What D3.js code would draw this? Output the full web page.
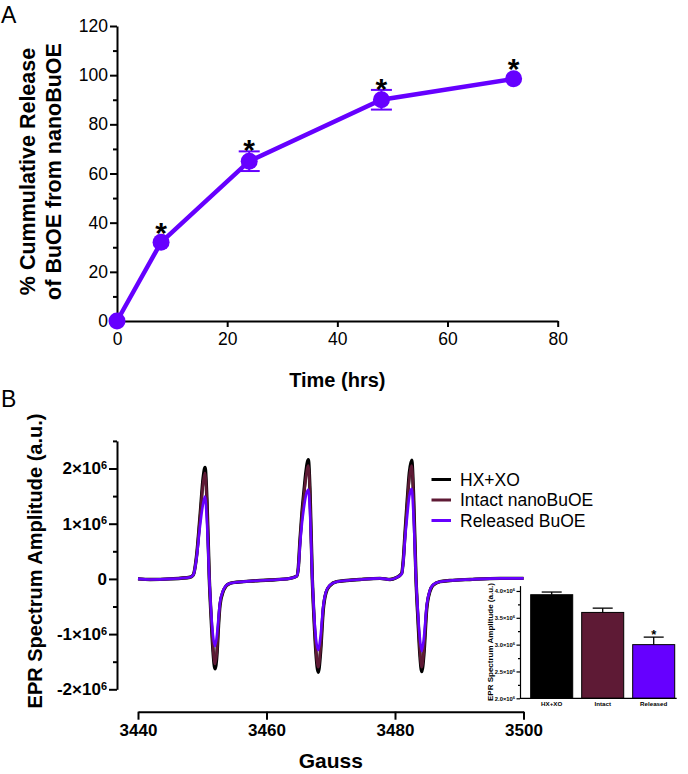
<!DOCTYPE html>
<html>
<head>
<meta charset="utf-8">
<script src="https://cdn.jsdelivr.net/npm/d3@7"></script>
<style>
  html, body { margin: 0; padding: 0; background: #fff; }
  svg { display: block; font-family: "Liberation Sans", Arial, Helvetica, sans-serif; }
</style>
</head>
<body>
<svg id="chart" width="688" height="774"></svg>
<script>
// ---------------- DATA ----------------
// Panel A: cumulative release
const timeHrs    = [0, 8, 24, 48, 72];
const releasePct = [0, 32, 65, 90, 98.5];
const releaseErr = [0, 0, 4, 4, 0];
const releaseSig = [false, true, true, true, true];
const timeTicks  = [0, 20, 40, 60, 80];
const pctTicks   = [0, 20, 40, 60, 80, 100, 120];

// Panel B: EPR spectra (amplitude in units of 10^6 a.u.)
const gauss = [3440, 3441.9, 3445.0, 3448.1, 3448.6, 3449.1, 3449.65, 3450.16, 3450.43, 3450.74,
  3451.10, 3451.36, 3451.67, 3451.98, 3452.30, 3452.53, 3452.76, 3453.28, 3453.70, 3454.32,
  3455.36, 3457.43, 3460.54, 3463.66, 3464.70, 3464.95, 3465.21, 3465.52, 3465.84, 3466.15,
  3466.51, 3466.77, 3467.13, 3467.39, 3467.70, 3468.06, 3468.40, 3468.84, 3469.26, 3469.88,
  3470.93, 3472.48, 3474.55, 3477.67, 3479.22, 3480.16, 3481.04, 3481.29, 3481.56, 3481.91,
  3482.23, 3482.60, 3482.88, 3483.27, 3483.58, 3483.89, 3484.16, 3484.51, 3484.93, 3485.45,
  3485.96, 3487.00, 3488.56, 3491.67, 3496.34, 3500];
const hxxo = [0.00, -0.01, 0.00, 0.03, 0.07, 0.40, 1.13, 1.85, 2.02, 1.40,
  0.00, -0.65, -1.30, -1.63, -1.35, -0.85, -0.48, -0.22, -0.13, -0.08,
  -0.06, -0.04, -0.02, 0.01, 0.05, 0.20, 0.70, 1.20, 1.60, 1.95,
  2.16, 1.60, 0.00, -0.70, -1.35, -1.69, -1.35, -0.55, -0.25, -0.12,
  -0.05, -0.03, -0.01, 0.01, -0.01, 0.02, 0.10, 0.34, 0.83, 1.43,
  1.92, 2.15, 1.55, 0.00, -0.75, -1.40, -1.68, -1.35, -0.55, -0.22,
  -0.11, -0.05, -0.03, -0.01, 0.01, 0.01];
const intact = [0.00, -0.01, 0.00, 0.03, 0.07, 0.39, 1.10, 1.76, 1.92, 1.33,
  0.00, -0.62, -1.24, -1.54, -1.28, -0.82, -0.46, -0.21, -0.13, -0.08,
  -0.06, -0.04, -0.02, 0.01, 0.05, 0.19, 0.68, 1.15, 1.52, 1.85,
  2.05, 1.52, 0.00, -0.67, -1.28, -1.60, -1.28, -0.53, -0.24, -0.12,
  -0.05, -0.03, -0.01, 0.01, -0.01, 0.02, 0.10, 0.33, 0.80, 1.37,
  1.83, 2.05, 1.48, 0.00, -0.71, -1.33, -1.60, -1.28, -0.53, -0.21,
  -0.11, -0.05, -0.03, -0.01, 0.01, 0.01];
const released = [0.00, -0.01, 0.00, 0.03, 0.07, 0.36, 0.95, 1.38, 1.49, 1.00,
  0.00, -0.55, -1.02, -1.22, -1.00, -0.70, -0.42, -0.20, -0.12, -0.08,
  -0.06, -0.04, -0.02, 0.01, 0.05, 0.18, 0.60, 1.00, 1.30, 1.52,
  1.62, 1.20, 0.00, -0.60, -1.08, -1.29, -1.05, -0.48, -0.23, -0.11,
  -0.05, -0.03, -0.01, 0.01, -0.01, 0.02, 0.09, 0.30, 0.72, 1.15,
  1.50, 1.63, 1.15, 0.00, -0.62, -1.10, -1.31, -1.05, -0.48, -0.20,
  -0.10, -0.05, -0.03, -0.01, 0.01, 0.01];
const seriesNames = ["HX+XO", "Intact nanoBuOE", "Released BuOE"];
const gaussTicks = [3440, 3460, 3480, 3500];
const ampTicks = [-2, -1, 0, 1, 2];
const ampMinor = [-1.5, -0.5, 0.5, 1.5, 2.5];

// Inset bar chart (10^6 a.u.)
const insetCats  = ["HX+XO", "Intact", "Released"];
const insetMeans = [3.93, 3.60, 3.00];
const insetErr   = [0.05, 0.08, 0.14];
const insetSig   = [false, false, true];
const insetTicks = [2.0, 2.5, 3.0, 3.5, 4.0];
const insetMinor = [2.25, 2.75, 3.25, 3.75];

// ---------------- STYLE ----------------
const PURPLE = "#6600ff";
const MAROON = "#5e1a35";
const svg = d3.select("#chart");

function styleAxis(g, width, fs, bold) {
  g.select(".domain").attr("stroke", "#000").attr("stroke-width", width);
  g.selectAll(".tick line").attr("stroke", "#000").attr("stroke-width", width);
  g.selectAll(".tick text").attr("fill", "#000").attr("font-size", fs)
    .attr("font-family", "Liberation Sans, Arial, sans-serif")
    .attr("font-weight", bold ? "bold" : "normal");
}

// ---------------- PANEL A ----------------
svg.append("text").attr("x", 1).attr("y", 23).attr("font-size", 23).text("A");

const xA = d3.scaleLinear().domain([0, 80]).range([117, 557.7]);
const yA = d3.scaleLinear().domain([0, 120]).range([321, 26]);

const gyA = svg.append("g").attr("transform", `translate(${xA(0)},0)`)
  .call(d3.axisLeft(yA).tickValues(pctTicks).tickSize(7).tickPadding(2).tickSizeOuter(0));
styleAxis(gyA, 2, 17.5, false);
const gyAm = svg.append("g").attr("transform", `translate(${xA(0)},0)`)
  .call(d3.axisLeft(yA).tickValues(d3.range(10, 120, 20)).tickSize(4).tickFormat(""));
gyAm.select(".domain").remove();
gyAm.selectAll(".tick line").attr("stroke", "#000").attr("stroke-width", 2);

const gxA = svg.append("g").attr("transform", `translate(0,${yA(0)})`)
  .call(d3.axisBottom(xA).tickValues(timeTicks).tickSize(6).tickPadding(6).tickSizeOuter(0));
styleAxis(gxA, 2, 17.5, false);

svg.append("text").attr("x", (xA(0) + xA(80)) / 2).attr("y", 387)
  .attr("text-anchor", "middle").attr("font-weight", "bold").attr("font-size", 20)
  .text("Time (hrs)");

const yTitleA = svg.append("text").attr("transform", "translate(0,171.5) rotate(-90)")
  .attr("text-anchor", "middle").attr("font-weight", "bold").attr("font-size", 21.5);
yTitleA.append("tspan").attr("x", 0).attr("y", 34.5).text("% Cummulative Release");
yTitleA.append("tspan").attr("x", 0).attr("y", 60.5).text("of BuOE from nanoBuOE");

const ptsA = timeHrs.map((t, i) => ({ t, v: releasePct[i], e: releaseErr[i], s: releaseSig[i] }));
svg.append("path").datum(ptsA)
  .attr("fill", "none").attr("stroke", PURPLE).attr("stroke-width", 4.5)
  .attr("d", d3.line().x(d => xA(d.t)).y(d => yA(d.v)));

const errA = svg.append("g").attr("stroke", PURPLE).attr("stroke-width", 2);
ptsA.filter(d => d.e > 0).forEach(d => {
  errA.append("line").attr("x1", xA(d.t)).attr("x2", xA(d.t)).attr("y1", yA(d.v - d.e)).attr("y2", yA(d.v + d.e));
  [d.v - d.e, d.v + d.e].forEach(v => {
    errA.append("line").attr("x1", xA(d.t) - 10.5).attr("x2", xA(d.t) + 10.5).attr("y1", yA(v)).attr("y2", yA(v));
  });
});
svg.append("g").selectAll("circle").data(ptsA).join("circle")
  .attr("cx", d => xA(d.t)).attr("cy", d => yA(d.v)).attr("r", 8.5).attr("fill", PURPLE);

svg.append("g").selectAll("text").data(ptsA.filter(d => d.s)).join("text")
  .attr("x", d => xA(d.t))
  .attr("y", d => Math.min(yA(d.v) - 8.5, yA(d.v + d.e)) - 8 + 17)
  .attr("text-anchor", "middle").attr("font-weight", "bold").attr("font-size", 30)
  .text("*");

// ---------------- PANEL B ----------------
svg.append("text").attr("x", 1).attr("y", 406.5).attr("font-size", 23).text("B");

const xB = d3.scaleLinear().domain([3440, 3500]).range([138, 523.5]);
const yB = d3.scaleLinear().domain([-2, 2.5]).range([689.3, 440.9]);

const gyB = svg.append("g").attr("transform", "translate(117,0)")
  .call(d3.axisLeft(yB).tickValues(ampTicks).tickSize(8).tickPadding(2).tickSizeOuter(0));
styleAxis(gyB, 2, 17, true);
gyB.selectAll(".tick text").each(function (d) {
  const t = d3.select(this);
  t.text(null);
  if (d === 0) { t.text("0"); return; }
  t.append("tspan").text(d + "×10");
  t.append("tspan").attr("dy", "-0.5em").attr("font-size", 11).text("6");
});
const gyBm = svg.append("g").attr("transform", "translate(117,0)")
  .call(d3.axisLeft(yB).tickValues(ampMinor).tickSize(4).tickFormat(""));
gyBm.select(".domain").remove();
gyBm.selectAll(".tick line").attr("stroke", "#000").attr("stroke-width", 2);

const gxB = svg.append("g").attr("transform", "translate(0,711.7)")
  .call(d3.axisBottom(xB).tickValues(gaussTicks).tickFormat(d3.format("d"))
    .tickSize(8).tickPadding(4).tickSizeOuter(0));
styleAxis(gxB, 2, 17, true);

svg.append("text").attr("x", (xB(3440) + xB(3500)) / 2).attr("y", 768)
  .attr("text-anchor", "middle").attr("font-weight", "bold").attr("font-size", 21)
  .text("Gauss");

svg.append("text").attr("transform", "translate(42,561) rotate(-90)")
  .attr("text-anchor", "middle").attr("font-weight", "bold").attr("font-size", 20)
  .text("EPR Spectrum Amplitude (a.u.)");

const spectra = [
  { name: seriesNames[0], vals: hxxo, color: "#000000", w: 3.4 },
  { name: seriesNames[1], vals: intact, color: MAROON, w: 2.8 },
  { name: seriesNames[2], vals: released, color: PURPLE, w: 2.6 }
];
const lineB = d3.line().x(d => xB(d[0])).y(d => yB(d[1])).curve(d3.curveMonotoneX);
spectra.forEach(s => {
  svg.append("path").datum(gauss.map((g, i) => [g, s.vals[i]]))
    .attr("fill", "none").attr("stroke", s.color).attr("stroke-width", s.w)
    .attr("stroke-linejoin", "round").attr("d", lineB);
});

// legend
const leg = svg.append("g");
spectra.forEach((s, i) => {
  const y = 479.5 + i * 20.5;
  leg.append("line").attr("x1", 431.5).attr("x2", 451).attr("y1", y).attr("y2", y)
    .attr("stroke", s.color).attr("stroke-width", 3);
  leg.append("text").attr("x", 460).attr("y", y).attr("dy", "0.35em")
    .attr("font-size", 17.5).text(s.name);
});

// ---------------- INSET ----------------
const yI = d3.scaleLinear().domain([2.0, 4.1]).range([698.3, 585.6]);
const xI = d3.scaleBand().domain(insetCats).range([526.2, 679.2]).paddingInner(0.176).paddingOuter(0.088);

svg.append("g").selectAll("rect").data(insetCats).join("rect")
  .attr("x", d => xI(d)).attr("width", xI.bandwidth())
  .attr("y", (d, i) => yI(insetMeans[i])).attr("height", (d, i) => yI(2.0) - yI(insetMeans[i]))
  .attr("fill", (d, i) => ["#000000", MAROON, PURPLE][i])
  .attr("stroke", "#000").attr("stroke-width", 1);

const errI = svg.append("g").attr("stroke", "#000").attr("stroke-width", 1.3);
insetCats.forEach((c, i) => {
  const cx = xI(c) + xI.bandwidth() / 2;
  errI.append("line").attr("x1", cx).attr("x2", cx).attr("y1", yI(insetMeans[i])).attr("y2", yI(insetMeans[i] + insetErr[i]));
  errI.append("line").attr("x1", cx - 10).attr("x2", cx + 10).attr("y1", yI(insetMeans[i] + insetErr[i])).attr("y2", yI(insetMeans[i] + insetErr[i]));
  if (insetSig[i]) {
    svg.append("text").attr("x", cx).attr("y", yI(insetMeans[i] + insetErr[i]) + 2)
      .attr("text-anchor", "middle").attr("font-weight", "bold").attr("font-size", 13).text("*");
  }
});

const gyI = svg.append("g").attr("transform", "translate(520,0)")
  .call(d3.axisLeft(yI).tickValues(insetTicks).tickSize(3.5).tickPadding(1.5).tickSizeOuter(0));
styleAxis(gyI, 1.2, 5.8, true);
gyI.selectAll(".tick text").each(function (d) {
  const t = d3.select(this);
  t.text(null);
  t.append("tspan").text(d.toFixed(1) + "×10");
  t.append("tspan").attr("dy", "-0.5em").attr("font-size", 4).text("6");
});
const gyIm = svg.append("g").attr("transform", "translate(520,0)")
  .call(d3.axisLeft(yI).tickValues(insetMinor).tickSize(2).tickFormat(""));
gyIm.select(".domain").remove();
gyIm.selectAll(".tick line").attr("stroke", "#000").attr("stroke-width", 1.2);

const gxI = svg.append("g").attr("transform", `translate(0,${yI(2.0)})`)
  .call(d3.axisBottom(xI).tickSize(0).tickPadding(3).tickSizeOuter(0));
gxI.select(".domain").attr("d", `M520,0H676.7`).attr("stroke", "#000").attr("stroke-width", 1.3);
styleAxis(gxI, 1.3, 6.2, true);
gxI.select(".domain").attr("stroke-width", 1.3);

svg.append("text").attr("transform", "translate(493,642) rotate(-90)")
  .attr("text-anchor", "middle").attr("font-weight", "bold").attr("font-size", 8)
  .text("EPR Spectrum Amplitude (a.u.)");
</script>
</body>
</html>
